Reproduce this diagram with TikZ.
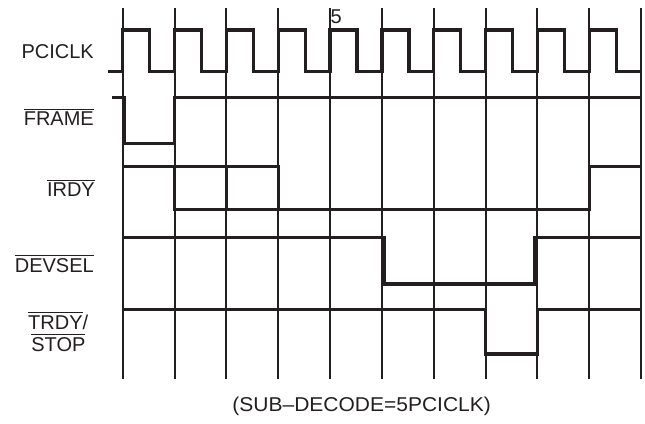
\documentclass[tikz,border=0pt]{standalone}
\usepackage{fontspec}
\setmainfont{Liberation Sans}
\usepackage{graphicx}
\definecolor{ink}{HTML}{231F20}
\newcommand{\ovl}[1]{\vbox{\hrule height 1pt\kern 2.4pt\hbox{#1}}}
\begin{document}
\begin{tikzpicture}[x=1pt,y=-1pt,
  grid/.style={draw=ink,line width=2pt},
  sig/.style={draw=ink,line width=3.3pt,line join=miter},
  lbl/.style={inner sep=0pt,text=ink,font=\fontsize{20}{23}\selectfont}]
\useasboundingbox (0,0) rectangle (645,423);
% grid lines
\foreach \i in {0,...,10}{
  \coordinate (gt\i) at ({122.7+51.83*\i},8);
  \coordinate (gb\i) at ({122.7+51.83*\i},379.3);
  \draw[grid] (gt\i) -- (gb\i);
}
% clock
\coordinate (c0) at (108,71.7);
\draw[sig] (c0)
  \foreach \i in {0,...,9}{
    -- ({122.7+51.83*\i},71.7) -- ({122.7+51.83*\i},30)
    -- ({122.7+51.83*\i+27},30) -- ({122.7+51.83*\i+27},71.7)
  } -- (641,71.7);
% FRAME
\draw[sig] (112,97.7) -- (124,97.7) -- (124,143.3) -- (174.5,143.3) -- (174.5,97.7) -- (641,97.7);
% IRDY
\draw[sig] (122.7,166.7) -- (278.2,166.7) -- (278.2,209.3);
\draw[sig] (174.5,166.7) -- (174.5,209.3) -- (589.2,209.3) -- (589.2,166.7) -- (641,166.7);
\draw[sig] (226.4,166.7) -- (226.4,209.3);
% DEVSEL
\draw[sig] (122.7,237.7) -- (384,237.7) -- (384,284) -- (535,284) -- (535,237.7) -- (641,237.7);
% TRDY/STOP
\draw[sig] (122.7,309.3) -- (485.5,309.3) -- (485.5,354) -- (537.4,354) -- (537.4,309.3) -- (641,309.3);
% labels
\node[lbl,anchor=base east] (pciclk) at (94,58.5) {PCICLK};
\node[lbl,anchor=base east] (frame) at (94,125.7) {\ovl{FRAME}};
\node[lbl,anchor=base east] (irdy) at (95,196.7) {\ovl{IRDY}};
\node[lbl,anchor=base east] (devsel) at (94,272.7) {\ovl{DEVSEL}};
\node[lbl,anchor=base west] (trdy) at (28,329) {\ovl{TRDY}/};
\node[lbl,anchor=base] (stop) at (58.4,351.7) {\ovl{STOP}};
\node[lbl,anchor=base west] (five) at (330.5,23.5) {5};
\node[lbl,anchor=base] (cap) at (361.7,411.5) {\scalebox{1.05}[1]{(SUB–DECODE=5PCICLK)}};
\end{tikzpicture}
\end{document}
